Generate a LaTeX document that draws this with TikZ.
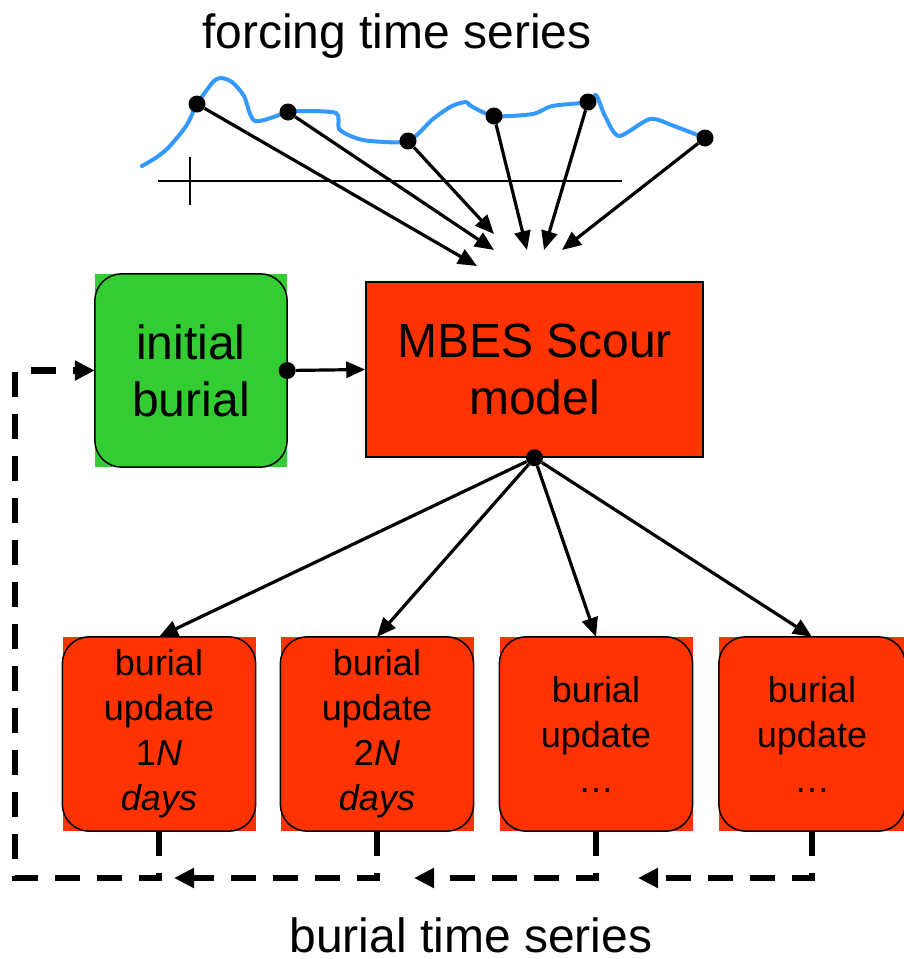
\documentclass[tikz,border=0pt]{standalone}
\usepackage{fontspec}
\setmainfont{Liberation Sans}
\usetikzlibrary{arrows.meta}
\definecolor{scourred}{HTML}{FF3300}
\definecolor{burialgreen}{HTML}{33CC33}
\definecolor{forcingblue}{HTML}{3399FF}

\begin{document}
\begin{tikzpicture}[x=1pt,y=-1pt,>={Triangle[length=19pt,width=16pt]},
      big/.style={font=\fontsize{48}{57}\selectfont},
      small/.style={font=\fontsize{36}{45}\selectfont},
      box node/.style={rectangle,fill=#1,inner sep=0pt,align=center},
      dot node/.style={circle,fill=black,inner sep=0pt,minimum size=17pt},
      arr/.style={->,line width=3.2pt},
      loop arr/.style={->,line width=6.5pt,dash pattern=on 25pt off 17pt,
        >={Triangle[length=20pt,width=19pt]}}]
 \useasboundingbox (0,0) rectangle (904,959);

 % titles
 \node[big,anchor=base] (ftitle) at (397,48) {forcing time series};
 \node[big,anchor=base] (btitle) at (471,952) {burial time series};

 % forcing series and axes
 \draw[line width=2pt] (158,181) -- (622,181);
 \draw[line width=2pt] (190,157) -- (190,205);
 \draw[forcingblue,line width=4pt,line join=round,line cap=round]
   plot[smooth,tension=0.45] coordinates {(142,166) (157,157) (169,147) (184,129)
   (190,119) (197,104) (213,82) (221,78) (232,82) (244,96) (255,121) (288,112)
   (299,111) (336,113) (339,129) (353,137) (370,141) (408,141) (433,119) (452,106)
   (466,102) (471,106) (494,116) (533,114) (552,106) (588,102) (596,95) (605,116)
   (619,136) (650,119) (674,126) (705,138)};

 % boxes
 \node[box node=burialgreen,big,minimum width=192pt,minimum height=193pt] (ib) at (191,370.5) {initial\\burial};
 \node[box node=scourred,big,draw,line width=1.5pt,minimum width=337pt,minimum height=175pt] (mbes) at (534.5,369.5) {MBES Scour\\model};
 \node[box node=scourred,small,minimum width=193pt,minimum height=194pt] (b1) at (159,734) {burial\\update\\1\textit{N}\\\textit{days}};
 \node[box node=scourred,small,minimum width=193pt,minimum height=194pt] (b2) at (377,734) {burial\\update\\2\textit{N}\\\textit{days}};
 \node[box node=scourred,small,minimum width=193pt,minimum height=194pt] (b3) at (596,734) {burial\\update\\…};
 \node[box node=scourred,small,minimum width=186pt,minimum height=194pt] (b4) at (812,734) {burial\\update\\…};
 \foreach \n in {ib,b1,b2,b3,b4}
   \draw[line width=1.5pt,rounded corners=27pt] (\n.south west) rectangle (\n.north east);

 % sample points
 \node[dot node] (f1) at (197,104) {};
 \node[dot node] (f2) at (288,112) {};
 \node[dot node] (f3) at (408,141) {};
 \node[dot node] (f4) at (494,116) {};
 \node[dot node] (f5) at (588,102) {};
 \node[dot node] (f6) at (705,138) {};
 \coordinate (a1) at (477,266);
 \coordinate (a2) at (494,250);
 \coordinate (a3) at (494,234);
 \coordinate (a4) at (527,250);
 \coordinate (a5) at (544,250);
 \coordinate (a6) at (562,250);
 \foreach \i in {1,...,6}
   \draw[arr] (f\i) -- (a\i);

 % model connections
 \node[dot node] (ibout) at (ib.east) {};
 \node[dot node] (mout) at (mbes.south) {};
 \draw[arr] (ibout) -- (mbes.west);
 \foreach \b in {b1,b2,b3,b4}
   \draw[arr] (mout) -- (\b.north);

 % feedback loop
 \coordinate (t2) at (174,878);
 \coordinate (t3) at (414,878);
 \coordinate (t4) at (638,878);
 \coordinate (lc) at (15,878);
 \draw[loop arr] (b2.south) |- (t2);
 \draw[loop arr] (b3.south) |- (t3);
 \draw[loop arr] (b4.south) |- (t4);
 \draw[loop arr] (b1.south) |- (lc) |- (ib.west);
\end{tikzpicture}
\end{document}
